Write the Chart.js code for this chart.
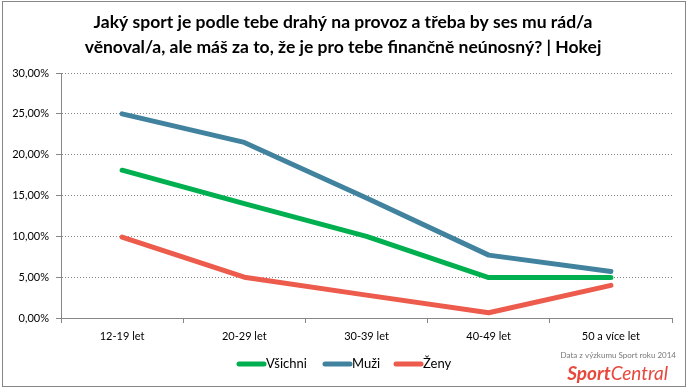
<!DOCTYPE html>
<html>
<head>
<meta charset="utf-8">
<script src="https://cdn.jsdelivr.net/npm/chart.js@4/dist/chart.umd.min.js"></script>
<style>
html,body{margin:0;padding:0;background:#fff;}
#wrap{width:687px;height:388px;position:relative;}
</style>
</head>
<body>
<div id="wrap"><canvas id="c" width="687" height="388"></canvas></div>
<script>
const titleLines = ["Jaký sport je podle tebe drahý na provoz a třeba by ses mu rád/a", "věnoval/a, ale máš za to, že je pro tebe finančně neúnosný? | Hokej"];
const categories = ["12-19 let", "20-29 let", "30-39 let", "40-49 let", "50 a více let"];
const seriesNames = ["Všichni", "Muži", "Ženy"];
const vsichni = [18.1, 14.0, 10.0, 4.95, 4.95];
const muzi = [25.0, 21.5, 14.7, 7.7, 5.7];
const zeny = [9.9, 5.0, 2.8, 0.65, 4.0];
const yTicksMax = 30;
const yTicksStep = 5;
const sourceNote = "Data z výzkumu Sport roku 2014";
const brandBold = "Sport";
const brandRegular = "Central";

const colors = ["#00B050", "#41839F", "#EC5B4C"];
const FONT = "Lato, 'Open Sans', sans-serif";
const GREY = "#868686";

const decor = {
  id: 'decor',
  afterDraw(chart) {
    const ctx = chart.ctx;
    ctx.save();
    ctx.strokeStyle = GREY;
    ctx.lineWidth = 1;
    ctx.strokeRect(2.5, 1.5, 683, 385);
    ctx.fillStyle = "#000";
    ctx.textAlign = "center";
    ctx.textBaseline = "middle";
    ctx.font = "bold 16px " + FONT;
    const w = ctx.measureText(titleLines[0]).width;
    const size = 16 * 499 / w;
    ctx.font = "bold " + size.toFixed(2) + "px " + FONT;
    ctx.fillText(titleLines[0], 343, 22);
    ctx.fillText(titleLines[1], 343, 47);
    const ds = chart.data.datasets;
    const starts = [237, 323, 394];
    ctx.textAlign = "left";
    ctx.font = "13px " + FONT;
    ds.forEach((d, i) => {
      const x = starts[i];
      ctx.strokeStyle = d.borderColor;
      ctx.lineWidth = 5;
      ctx.lineCap = "round";
      ctx.beginPath();
      ctx.moveTo(x + 2, 364);
      ctx.lineTo(x + 27, 364);
      ctx.stroke();
      ctx.fillStyle = "#000";
      ctx.fillText(d.label, x + 29, 364);
    });
    ctx.textAlign = "right";
    ctx.fillStyle = "#777";
    ctx.font = "8px " + FONT;
    ctx.fillText(sourceNote, 676, 355);
    ctx.fillStyle = "#E8473C";
    ctx.font = "italic 19px " + FONT;
    const wr = ctx.measureText(brandRegular).width;
    ctx.fillText(brandRegular, 668, 374);
    ctx.font = "italic bold 19px " + FONT;
    ctx.fillText(brandBold, 668 - wr, 374);
    ctx.restore();
  }
};

new Chart(document.getElementById('c'), {
  type: 'line',
  data: {
    labels: categories,
    datasets: [vsichni, muzi, zeny].map((arr, i) => ({
      label: seriesNames[i],
      data: arr,
      borderColor: colors[i],
      backgroundColor: colors[i],
      borderWidth: 5,
      borderCapStyle: 'round',
      borderJoinStyle: 'round',
      pointRadius: 0,
      tension: 0,
      order: 3 - i
    }))
  },
  options: {
    responsive: false,
    animation: false,
    layout: { padding: { left: 0, top: 73, right: 15, bottom: 40 } },
    plugins: { legend: { display: false }, title: { display: false }, tooltip: { enabled: false } },
    scales: {
      x: {
        offset: true,
        afterFit: s => { s.height = 30; },
        grid: { offset: true, drawOnChartArea: false, drawTicks: true, tickLength: 5, color: GREY, tickColor: GREY },
        border: { display: true, color: GREY, width: 1 },
        ticks: { color: "#000", font: { family: FONT, size: 11 }, padding: 7, maxRotation: 0 }
      },
      y: {
        min: 0, max: yTicksMax,
        afterFit: s => { s.width = 61; },
        ticks: {
          stepSize: yTicksStep,
          color: "#000",
          font: { family: FONT, size: 11 },
          padding: 7,
          callback: v => v.toFixed(2).replace('.', ',') + '%'
        },
        grid: { color: GREY, tickColor: GREY, tickLength: 5, tickBorderDash: [], lineWidth: 1 },
        border: { display: true, color: GREY, width: 1, dash: [1, 2] }
      }
    }
  },
  plugins: [decor]
});
</script>
</body>
</html>
